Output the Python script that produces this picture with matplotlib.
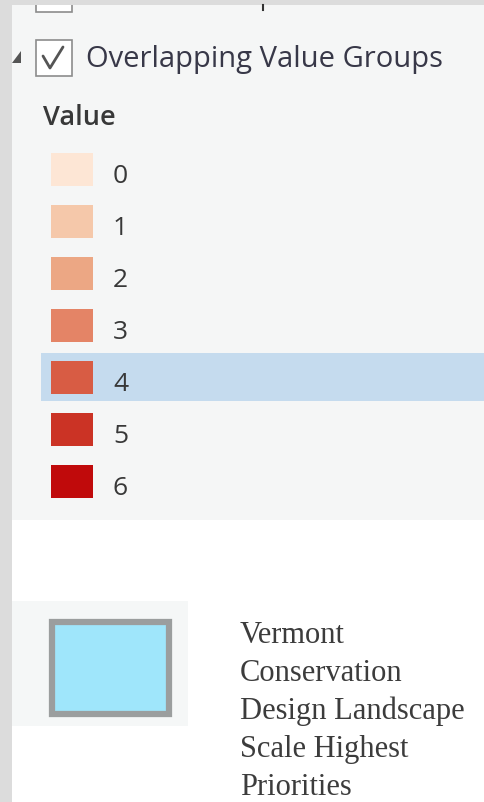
import matplotlib.pyplot as plt
from matplotlib.patches import Rectangle, Polygon

# legend content
layer_name = "Overlapping Value Groups"
field_name = "Value"
values = ["0", "1", "2", "3", "4", "5", "6"]
colors = ["#fde6d5", "#f5c8aa", "#eca784", "#e48466", "#d85c44", "#cb3325", "#c00a0b"]
selected = "4"
extra_label = ["Vermont", "Conservation", "Design Landscape", "Scale Highest", "Priorities"]
extra_fill = "#9fe6fb"
extra_edge = "#9b9e9e"

W, H = 485, 802
fig = plt.figure(figsize=(W / 100, H / 100), dpi=100)
fig.patch.set_facecolor("white")
ax = fig.add_axes([0, 0, 1, 1])
ax.set_xlim(0, W)
ax.set_ylim(H, 0)
ax.axis("off")

ui_font = "Open Sans"

# panel background + grey frame strips
ax.add_patch(Rectangle((12, 5), W - 12, 515, facecolor="#f5f6f6", edgecolor="none"))
ax.add_patch(Rectangle((0, 0), 12, H, facecolor="#dcdcdc", edgecolor="none"))

# partially visible checkbox of the layer above
ax.add_patch(Rectangle((36, -20), 36, 32, facecolor="white", edgecolor="#8c8c8c", lw=1.2))
ax.plot([263, 263], [5, 10], color="#333333", lw=1.5)
ax.add_patch(Rectangle((0, 0), W, 5, facecolor="#dcdcdc", edgecolor="none"))

# expand triangle, checkbox, layer name
ax.add_patch(Polygon([(21, 51), (21, 63), (12, 63)], closed=True, facecolor="#555555", edgecolor="none"))
ax.add_patch(Rectangle((36, 40), 36, 36, facecolor="white", edgecolor="#8c8c8c", lw=1.2))
ax.plot([43, 50, 63], [56, 68, 47], color="#555555", lw=2, solid_capstyle="round")
ax.text(86, 67, layer_name, fontsize=21, family=ui_font, color="#383848", va="baseline", ha="left")
ax.text(43, 125, field_name, fontsize=19.5, family=ui_font, weight="semibold", color="#383838",
        va="baseline", ha="left")

# class swatches
top0, step, sw_h = 153, 52, 33
for i, (v, c) in enumerate(zip(values, colors)):
    y = top0 + i * step
    if v == selected:
        ax.add_patch(Rectangle((41, y - 8), W - 41, 48, facecolor="#c5dbee", edgecolor="none"))
    ax.add_patch(Rectangle((51, y), 42, sw_h, facecolor=c, edgecolor="none"))
    ax.text(113, y + 30, v, fontsize=19, family=ui_font, color="#383838", va="baseline", ha="left")

# second legend item
ax.add_patch(Rectangle((12, 601), 176, 125, facecolor="#f5f7f7", edgecolor="none"))
ax.add_patch(Rectangle((52, 622), 117, 92, facecolor=extra_fill, edgecolor=extra_edge, lw=4.5))
for j, line in enumerate(extra_label):
    ax.text(240, 643 + j * 38, line, fontsize=22, family="Liberation Serif", color="#3c3c3c",
            va="baseline", ha="left")

fig.savefig("out.png", dpi=100)
